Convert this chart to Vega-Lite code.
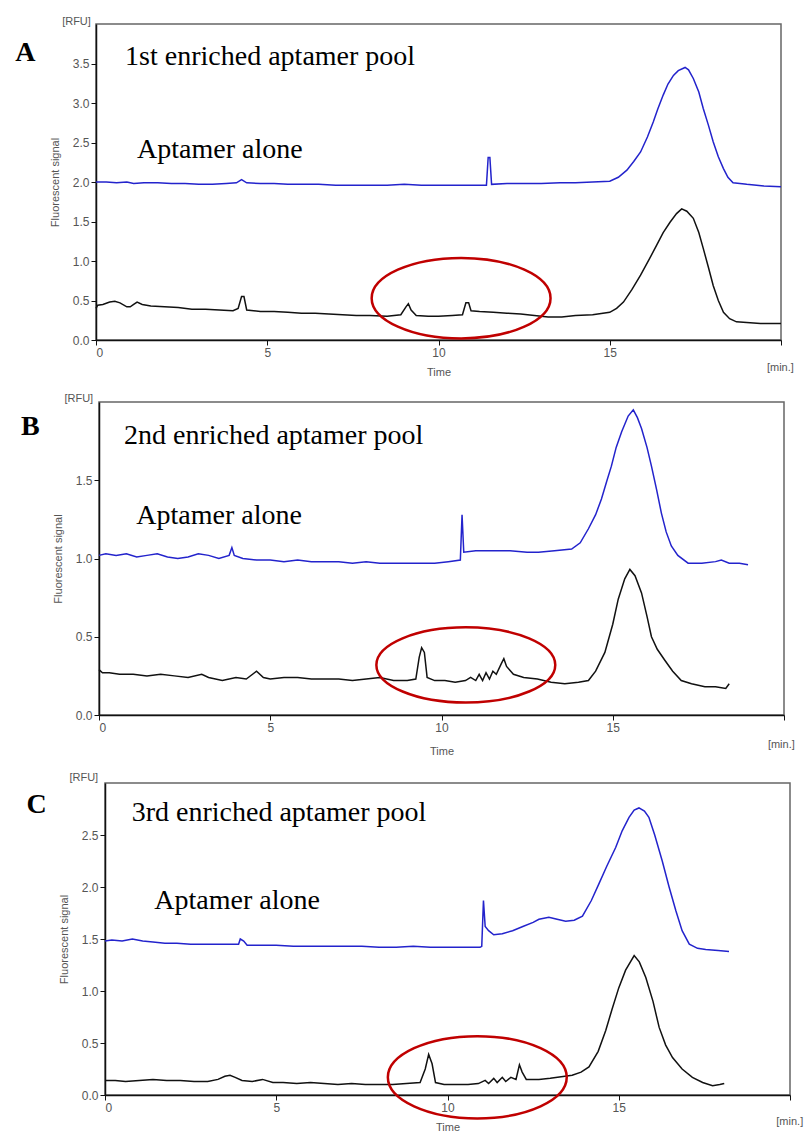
{
  "$schema": "https://vega.github.io/schema/vega-lite/v6.json",
  "padding": {"left": 12, "top": 15, "right": 0, "bottom": 0},
  "spacing": 14,
  "config": {
    "view": {"stroke": "#666666", "strokeWidth": 1.5},
    "axis": {"grid": false, "domainColor": "#111111", "domainWidth": 1.5, "tickColor": "#111111", "tickSize": 5, "labelFont": "Liberation Sans", "labelFontSize": 12, "labelColor": "#555555", "labelPadding": 2, "titleFont": "Liberation Sans", "titleFontSize": 11, "titleFontWeight": "normal", "titleColor": "#555555"},
    "axisX": {"titlePadding": 8},
    "axisY": {"titlePadding": 12}
  },
  "datasets": {
    "A": [
      {"tr":"u","t":0,"v":2.0},{"tr":"u","t":0.3,"v":2.0},{"tr":"u","t":0.6,"v":1.99},{"tr":"u","t":0.9,"v":2.0},{"tr":"u","t":1.1,"v":1.98},{"tr":"u","t":1.4,"v":1.99},{"tr":"u","t":1.8,"v":1.99},{"tr":"u","t":2.2,"v":1.98},{"tr":"u","t":2.6,"v":1.98},{"tr":"u","t":3.0,"v":1.97},{"tr":"u","t":3.4,"v":1.97},{"tr":"u","t":3.8,"v":1.98},{"tr":"u","t":4.1,"v":1.99},{"tr":"u","t":4.25,"v":2.03},{"tr":"u","t":4.4,"v":1.99},{"tr":"u","t":4.8,"v":1.98},{"tr":"u","t":5.2,"v":1.98},{"tr":"u","t":5.6,"v":1.97},{"tr":"u","t":6.0,"v":1.97},{"tr":"u","t":6.5,"v":1.97},{"tr":"u","t":7.0,"v":1.96},{"tr":"u","t":7.5,"v":1.96},{"tr":"u","t":8.0,"v":1.96},{"tr":"u","t":8.5,"v":1.96},{"tr":"u","t":9.0,"v":1.97},{"tr":"u","t":9.5,"v":1.96},{"tr":"u","t":10.0,"v":1.96},{"tr":"u","t":10.5,"v":1.96},{"tr":"u","t":11.0,"v":1.96},{"tr":"u","t":11.4,"v":1.96},{"tr":"u","t":11.45,"v":2.31},{"tr":"u","t":11.5,"v":2.31},{"tr":"u","t":11.55,"v":1.97},{"tr":"u","t":12.0,"v":1.98},{"tr":"u","t":12.5,"v":1.98},{"tr":"u","t":13.0,"v":1.98},{"tr":"u","t":13.55,"v":1.99},{"tr":"u","t":14.0,"v":1.99},{"tr":"u","t":14.5,"v":2.0},{"tr":"u","t":15.0,"v":2.01},{"tr":"u","t":15.25,"v":2.06},{"tr":"u","t":15.5,"v":2.15},{"tr":"u","t":15.7,"v":2.26},{"tr":"u","t":15.9,"v":2.38},{"tr":"u","t":16.1,"v":2.57},{"tr":"u","t":16.27,"v":2.76},{"tr":"u","t":16.4,"v":2.92},{"tr":"u","t":16.56,"v":3.1},{"tr":"u","t":16.7,"v":3.24},{"tr":"u","t":16.86,"v":3.35},{"tr":"u","t":17.0,"v":3.41},{"tr":"u","t":17.2,"v":3.45},{"tr":"u","t":17.3,"v":3.42},{"tr":"u","t":17.44,"v":3.31},{"tr":"u","t":17.6,"v":3.14},{"tr":"u","t":17.73,"v":2.93},{"tr":"u","t":17.88,"v":2.72},{"tr":"u","t":18.02,"v":2.51},{"tr":"u","t":18.17,"v":2.32},{"tr":"u","t":18.32,"v":2.17},{"tr":"u","t":18.45,"v":2.06},{"tr":"u","t":18.6,"v":1.99},{"tr":"u","t":18.8,"v":1.98},{"tr":"u","t":19.0,"v":1.97},{"tr":"u","t":19.5,"v":1.95},{"tr":"u","t":20.0,"v":1.94},
      {"tr":"l","t":0,"v":0.4},{"tr":"l","t":0.05,"v":0.44},{"tr":"l","t":0.2,"v":0.45},{"tr":"l","t":0.4,"v":0.48},{"tr":"l","t":0.55,"v":0.49},{"tr":"l","t":0.7,"v":0.47},{"tr":"l","t":0.9,"v":0.42},{"tr":"l","t":1.0,"v":0.42},{"tr":"l","t":1.1,"v":0.45},{"tr":"l","t":1.2,"v":0.48},{"tr":"l","t":1.35,"v":0.45},{"tr":"l","t":1.6,"v":0.43},{"tr":"l","t":2.0,"v":0.42},{"tr":"l","t":2.4,"v":0.41},{"tr":"l","t":2.8,"v":0.39},{"tr":"l","t":3.2,"v":0.39},{"tr":"l","t":3.6,"v":0.38},{"tr":"l","t":4.0,"v":0.37},{"tr":"l","t":4.15,"v":0.4},{"tr":"l","t":4.25,"v":0.55},{"tr":"l","t":4.32,"v":0.55},{"tr":"l","t":4.4,"v":0.38},{"tr":"l","t":4.8,"v":0.36},{"tr":"l","t":5.2,"v":0.36},{"tr":"l","t":5.6,"v":0.35},{"tr":"l","t":6.0,"v":0.34},{"tr":"l","t":6.4,"v":0.34},{"tr":"l","t":6.8,"v":0.33},{"tr":"l","t":7.2,"v":0.32},{"tr":"l","t":7.6,"v":0.31},{"tr":"l","t":8.0,"v":0.31},{"tr":"l","t":8.5,"v":0.3},{"tr":"l","t":8.9,"v":0.32},{"tr":"l","t":9.05,"v":0.42},{"tr":"l","t":9.12,"v":0.46},{"tr":"l","t":9.2,"v":0.38},{"tr":"l","t":9.35,"v":0.31},{"tr":"l","t":9.7,"v":0.3},{"tr":"l","t":10.0,"v":0.3},{"tr":"l","t":10.4,"v":0.31},{"tr":"l","t":10.7,"v":0.32},{"tr":"l","t":10.8,"v":0.47},{"tr":"l","t":10.88,"v":0.47},{"tr":"l","t":10.95,"v":0.37},{"tr":"l","t":11.2,"v":0.36},{"tr":"l","t":11.6,"v":0.35},{"tr":"l","t":12.0,"v":0.34},{"tr":"l","t":12.4,"v":0.33},{"tr":"l","t":12.8,"v":0.31},{"tr":"l","t":13.2,"v":0.29},{"tr":"l","t":13.6,"v":0.29},{"tr":"l","t":14.0,"v":0.31},{"tr":"l","t":14.5,"v":0.32},{"tr":"l","t":15.0,"v":0.35},{"tr":"l","t":15.2,"v":0.4},{"tr":"l","t":15.4,"v":0.48},{"tr":"l","t":15.65,"v":0.64},{"tr":"l","t":15.9,"v":0.82},{"tr":"l","t":16.15,"v":1.02},{"tr":"l","t":16.37,"v":1.2},{"tr":"l","t":16.56,"v":1.36},{"tr":"l","t":16.76,"v":1.49},{"tr":"l","t":16.95,"v":1.6},{"tr":"l","t":17.1,"v":1.66},{"tr":"l","t":17.25,"v":1.63},{"tr":"l","t":17.44,"v":1.54},{"tr":"l","t":17.6,"v":1.36},{"tr":"l","t":17.73,"v":1.16},{"tr":"l","t":17.88,"v":0.92},{"tr":"l","t":18.02,"v":0.69},{"tr":"l","t":18.17,"v":0.5},{"tr":"l","t":18.32,"v":0.35},{"tr":"l","t":18.5,"v":0.27},{"tr":"l","t":18.7,"v":0.23},{"tr":"l","t":19.0,"v":0.22},{"tr":"l","t":19.4,"v":0.21},{"tr":"l","t":20.0,"v":0.21}
    ],
    "B": [
      {"tr":"u","t":0,"v":1.02},{"tr":"u","t":0.2,"v":1.03},{"tr":"u","t":0.5,"v":1.02},{"tr":"u","t":0.8,"v":1.03},{"tr":"u","t":1.1,"v":1.01},{"tr":"u","t":1.4,"v":1.02},{"tr":"u","t":1.7,"v":1.03},{"tr":"u","t":2.0,"v":1.01},{"tr":"u","t":2.3,"v":1.0},{"tr":"u","t":2.6,"v":1.01},{"tr":"u","t":2.9,"v":1.03},{"tr":"u","t":3.2,"v":1.02},{"tr":"u","t":3.5,"v":1.0},{"tr":"u","t":3.8,"v":1.02},{"tr":"u","t":3.88,"v":1.07},{"tr":"u","t":3.95,"v":1.02},{"tr":"u","t":4.2,"v":1.0},{"tr":"u","t":4.6,"v":0.99},{"tr":"u","t":5.0,"v":0.99},{"tr":"u","t":5.4,"v":0.98},{"tr":"u","t":5.8,"v":0.99},{"tr":"u","t":6.2,"v":0.98},{"tr":"u","t":6.6,"v":0.98},{"tr":"u","t":7.0,"v":0.98},{"tr":"u","t":7.4,"v":0.97},{"tr":"u","t":7.8,"v":0.98},{"tr":"u","t":8.2,"v":0.97},{"tr":"u","t":8.6,"v":0.97},{"tr":"u","t":9.0,"v":0.97},{"tr":"u","t":9.4,"v":0.97},{"tr":"u","t":9.8,"v":0.97},{"tr":"u","t":10.2,"v":0.98},{"tr":"u","t":10.55,"v":0.99},{"tr":"u","t":10.6,"v":1.28},{"tr":"u","t":10.65,"v":1.04},{"tr":"u","t":11.0,"v":1.05},{"tr":"u","t":11.5,"v":1.05},{"tr":"u","t":12.0,"v":1.05},{"tr":"u","t":12.5,"v":1.04},{"tr":"u","t":12.83,"v":1.04},{"tr":"u","t":13.3,"v":1.05},{"tr":"u","t":13.8,"v":1.06},{"tr":"u","t":14.05,"v":1.1},{"tr":"u","t":14.29,"v":1.19},{"tr":"u","t":14.5,"v":1.28},{"tr":"u","t":14.67,"v":1.38},{"tr":"u","t":14.82,"v":1.49},{"tr":"u","t":14.96,"v":1.59},{"tr":"u","t":15.1,"v":1.71},{"tr":"u","t":15.26,"v":1.81},{"tr":"u","t":15.45,"v":1.91},{"tr":"u","t":15.6,"v":1.95},{"tr":"u","t":15.72,"v":1.9},{"tr":"u","t":15.84,"v":1.83},{"tr":"u","t":16.0,"v":1.71},{"tr":"u","t":16.13,"v":1.59},{"tr":"u","t":16.28,"v":1.44},{"tr":"u","t":16.42,"v":1.29},{"tr":"u","t":16.56,"v":1.17},{"tr":"u","t":16.71,"v":1.08},{"tr":"u","t":16.9,"v":1.02},{"tr":"u","t":17.2,"v":0.97},{"tr":"u","t":17.6,"v":0.97},{"tr":"u","t":18.0,"v":0.98},{"tr":"u","t":18.17,"v":0.99},{"tr":"u","t":18.4,"v":0.97},{"tr":"u","t":18.7,"v":0.97},{"tr":"u","t":18.95,"v":0.96},
      {"tr":"l","t":0,"v":0.29},{"tr":"l","t":0.1,"v":0.27},{"tr":"l","t":0.3,"v":0.27},{"tr":"l","t":0.6,"v":0.26},{"tr":"l","t":1.0,"v":0.26},{"tr":"l","t":1.4,"v":0.25},{"tr":"l","t":1.8,"v":0.26},{"tr":"l","t":2.2,"v":0.25},{"tr":"l","t":2.6,"v":0.24},{"tr":"l","t":3.0,"v":0.26},{"tr":"l","t":3.2,"v":0.24},{"tr":"l","t":3.6,"v":0.22},{"tr":"l","t":4.0,"v":0.24},{"tr":"l","t":4.3,"v":0.23},{"tr":"l","t":4.6,"v":0.28},{"tr":"l","t":4.8,"v":0.24},{"tr":"l","t":5.0,"v":0.23},{"tr":"l","t":5.4,"v":0.24},{"tr":"l","t":5.8,"v":0.24},{"tr":"l","t":6.2,"v":0.23},{"tr":"l","t":6.6,"v":0.23},{"tr":"l","t":7.0,"v":0.23},{"tr":"l","t":7.4,"v":0.22},{"tr":"l","t":7.8,"v":0.23},{"tr":"l","t":8.2,"v":0.24},{"tr":"l","t":8.6,"v":0.22},{"tr":"l","t":9.0,"v":0.22},{"tr":"l","t":9.25,"v":0.23},{"tr":"l","t":9.35,"v":0.37},{"tr":"l","t":9.42,"v":0.43},{"tr":"l","t":9.5,"v":0.4},{"tr":"l","t":9.58,"v":0.24},{"tr":"l","t":9.8,"v":0.22},{"tr":"l","t":10.1,"v":0.22},{"tr":"l","t":10.4,"v":0.21},{"tr":"l","t":10.7,"v":0.22},{"tr":"l","t":10.85,"v":0.24},{"tr":"l","t":11.0,"v":0.22},{"tr":"l","t":11.1,"v":0.26},{"tr":"l","t":11.2,"v":0.22},{"tr":"l","t":11.3,"v":0.27},{"tr":"l","t":11.4,"v":0.23},{"tr":"l","t":11.5,"v":0.28},{"tr":"l","t":11.6,"v":0.26},{"tr":"l","t":11.75,"v":0.33},{"tr":"l","t":11.82,"v":0.36},{"tr":"l","t":11.9,"v":0.31},{"tr":"l","t":12.1,"v":0.26},{"tr":"l","t":12.4,"v":0.24},{"tr":"l","t":12.8,"v":0.23},{"tr":"l","t":13.2,"v":0.21},{"tr":"l","t":13.6,"v":0.2},{"tr":"l","t":14.0,"v":0.21},{"tr":"l","t":14.29,"v":0.22},{"tr":"l","t":14.5,"v":0.28},{"tr":"l","t":14.77,"v":0.4},{"tr":"l","t":15.0,"v":0.58},{"tr":"l","t":15.16,"v":0.74},{"tr":"l","t":15.35,"v":0.87},{"tr":"l","t":15.5,"v":0.93},{"tr":"l","t":15.65,"v":0.89},{"tr":"l","t":15.84,"v":0.78},{"tr":"l","t":16.0,"v":0.63},{"tr":"l","t":16.13,"v":0.5},{"tr":"l","t":16.3,"v":0.42},{"tr":"l","t":16.52,"v":0.35},{"tr":"l","t":16.75,"v":0.28},{"tr":"l","t":17.0,"v":0.22},{"tr":"l","t":17.3,"v":0.2},{"tr":"l","t":17.69,"v":0.18},{"tr":"l","t":18.0,"v":0.18},{"tr":"l","t":18.3,"v":0.17},{"tr":"l","t":18.4,"v":0.2}
    ],
    "C": [
      {"tr":"u","t":0,"v":1.48},{"tr":"u","t":0.2,"v":1.49},{"tr":"u","t":0.5,"v":1.48},{"tr":"u","t":0.8,"v":1.5},{"tr":"u","t":1.1,"v":1.48},{"tr":"u","t":1.4,"v":1.47},{"tr":"u","t":1.75,"v":1.46},{"tr":"u","t":2.1,"v":1.46},{"tr":"u","t":2.5,"v":1.45},{"tr":"u","t":2.9,"v":1.45},{"tr":"u","t":3.3,"v":1.45},{"tr":"u","t":3.7,"v":1.45},{"tr":"u","t":3.9,"v":1.45},{"tr":"u","t":3.95,"v":1.5},{"tr":"u","t":4.05,"v":1.48},{"tr":"u","t":4.15,"v":1.44},{"tr":"u","t":4.5,"v":1.44},{"tr":"u","t":5.0,"v":1.44},{"tr":"u","t":5.5,"v":1.43},{"tr":"u","t":6.0,"v":1.43},{"tr":"u","t":6.5,"v":1.43},{"tr":"u","t":7.0,"v":1.43},{"tr":"u","t":7.5,"v":1.43},{"tr":"u","t":8.0,"v":1.42},{"tr":"u","t":8.5,"v":1.42},{"tr":"u","t":9.0,"v":1.43},{"tr":"u","t":9.5,"v":1.42},{"tr":"u","t":10.0,"v":1.42},{"tr":"u","t":10.5,"v":1.42},{"tr":"u","t":10.95,"v":1.42},{"tr":"u","t":11.0,"v":1.43},{"tr":"u","t":11.05,"v":1.87},{"tr":"u","t":11.1,"v":1.62},{"tr":"u","t":11.2,"v":1.58},{"tr":"u","t":11.35,"v":1.54},{"tr":"u","t":11.6,"v":1.55},{"tr":"u","t":11.9,"v":1.58},{"tr":"u","t":12.2,"v":1.62},{"tr":"u","t":12.5,"v":1.66},{"tr":"u","t":12.67,"v":1.69},{"tr":"u","t":12.96,"v":1.71},{"tr":"u","t":13.2,"v":1.69},{"tr":"u","t":13.45,"v":1.67},{"tr":"u","t":13.7,"v":1.68},{"tr":"u","t":13.94,"v":1.72},{"tr":"u","t":14.2,"v":1.87},{"tr":"u","t":14.42,"v":2.03},{"tr":"u","t":14.65,"v":2.2},{"tr":"u","t":14.91,"v":2.38},{"tr":"u","t":15.1,"v":2.54},{"tr":"u","t":15.3,"v":2.67},{"tr":"u","t":15.45,"v":2.74},{"tr":"u","t":15.59,"v":2.76},{"tr":"u","t":15.75,"v":2.73},{"tr":"u","t":15.88,"v":2.67},{"tr":"u","t":16.05,"v":2.5},{"tr":"u","t":16.27,"v":2.25},{"tr":"u","t":16.47,"v":2.0},{"tr":"u","t":16.67,"v":1.77},{"tr":"u","t":16.85,"v":1.58},{"tr":"u","t":17.06,"v":1.45},{"tr":"u","t":17.3,"v":1.41},{"tr":"u","t":17.54,"v":1.4},{"tr":"u","t":17.9,"v":1.39},{"tr":"u","t":18.22,"v":1.38},
      {"tr":"l","t":0,"v":0.14},{"tr":"l","t":0.3,"v":0.14},{"tr":"l","t":0.6,"v":0.13},{"tr":"l","t":1.0,"v":0.14},{"tr":"l","t":1.4,"v":0.15},{"tr":"l","t":1.8,"v":0.14},{"tr":"l","t":2.2,"v":0.14},{"tr":"l","t":2.6,"v":0.13},{"tr":"l","t":3.0,"v":0.13},{"tr":"l","t":3.3,"v":0.15},{"tr":"l","t":3.5,"v":0.18},{"tr":"l","t":3.65,"v":0.19},{"tr":"l","t":3.8,"v":0.17},{"tr":"l","t":4.0,"v":0.14},{"tr":"l","t":4.3,"v":0.13},{"tr":"l","t":4.6,"v":0.15},{"tr":"l","t":4.9,"v":0.12},{"tr":"l","t":5.2,"v":0.12},{"tr":"l","t":5.6,"v":0.11},{"tr":"l","t":6.0,"v":0.12},{"tr":"l","t":6.4,"v":0.11},{"tr":"l","t":6.8,"v":0.1},{"tr":"l","t":7.2,"v":0.11},{"tr":"l","t":7.6,"v":0.1},{"tr":"l","t":8.0,"v":0.1},{"tr":"l","t":8.4,"v":0.1},{"tr":"l","t":8.8,"v":0.11},{"tr":"l","t":9.2,"v":0.12},{"tr":"l","t":9.35,"v":0.25},{"tr":"l","t":9.45,"v":0.39},{"tr":"l","t":9.55,"v":0.3},{"tr":"l","t":9.65,"v":0.12},{"tr":"l","t":9.9,"v":0.1},{"tr":"l","t":10.2,"v":0.1},{"tr":"l","t":10.6,"v":0.1},{"tr":"l","t":10.9,"v":0.11},{"tr":"l","t":11.1,"v":0.14},{"tr":"l","t":11.2,"v":0.11},{"tr":"l","t":11.35,"v":0.16},{"tr":"l","t":11.45,"v":0.12},{"tr":"l","t":11.6,"v":0.17},{"tr":"l","t":11.7,"v":0.13},{"tr":"l","t":11.85,"v":0.17},{"tr":"l","t":12.0,"v":0.15},{"tr":"l","t":12.1,"v":0.29},{"tr":"l","t":12.18,"v":0.22},{"tr":"l","t":12.3,"v":0.15},{"tr":"l","t":12.67,"v":0.15},{"tr":"l","t":13.0,"v":0.16},{"tr":"l","t":13.64,"v":0.19},{"tr":"l","t":13.9,"v":0.22},{"tr":"l","t":14.13,"v":0.27},{"tr":"l","t":14.4,"v":0.42},{"tr":"l","t":14.62,"v":0.62},{"tr":"l","t":14.8,"v":0.82},{"tr":"l","t":15.0,"v":1.03},{"tr":"l","t":15.2,"v":1.2},{"tr":"l","t":15.45,"v":1.34},{"tr":"l","t":15.6,"v":1.28},{"tr":"l","t":15.79,"v":1.13},{"tr":"l","t":16.0,"v":0.9},{"tr":"l","t":16.18,"v":0.65},{"tr":"l","t":16.37,"v":0.48},{"tr":"l","t":16.57,"v":0.36},{"tr":"l","t":16.85,"v":0.25},{"tr":"l","t":17.15,"v":0.17},{"tr":"l","t":17.45,"v":0.12},{"tr":"l","t":17.74,"v":0.09},{"tr":"l","t":17.95,"v":0.1},{"tr":"l","t":18.08,"v":0.11}
    ]
  },
  "vconcat": [
    {"spacing": 0, "hconcat": [
    {"width": 2, "height": 10, "view": {"stroke": null}, "data": {"values": []}, "mark": "point", "encoding": {}},
    {
      "width": 685, "height": 316,
      "layer": [
        {"data": {"name": "A"}, "mark": {"type": "line", "strokeWidth": 1.5}, "encoding": {
          "x": {"field": "t", "type": "quantitative", "scale": {"domain": [0, 20]}, "axis": {"title": "Time", "values": [0, 5, 10, 15, 20], "labelExpr": "datum.value == 20 ? '' : datum.label"}},
          "y": {"field": "v", "type": "quantitative", "scale": {"domain": [0, 4]}, "axis": {"title": "Fluorescent signal", "values": [0, 0.5, 1, 1.5, 2, 2.5, 3, 3.5], "format": ".1f"}},
          "color": {"field": "tr", "type": "nominal", "scale": {"domain": ["u", "l"], "range": ["#2323cc", "#111111"]}, "legend": null}}},
        {"data": {"values": [{"t": 10.66, "v": 0.53}]}, "mark": {"type": "point", "shape": "M-1,0A1,0.45,0,1,1,1,0A1,0.45,0,1,1,-1,0Z", "size": 32000, "filled": false, "stroke": "#c00000", "strokeWidth": 2.5, "opacity": 1}, "encoding": {"x": {"field": "t", "type": "quantitative"}, "y": {"field": "v", "type": "quantitative"}}},
        {"data": {"values": [{"t": -2.36, "v": 3.53, "label": "A"}]}, "mark": {"type": "text", "font": "Liberation Serif", "fontSize": 28, "fontWeight": "bold", "align": "left", "baseline": "alphabetic", "color": "#000000"}, "encoding": {"x": {"field": "t", "type": "quantitative"}, "y": {"field": "v", "type": "quantitative"}, "text": {"field": "label"}}},
        {"data": {"values": [{"t": 0.85, "v": 3.48, "label": "1st enriched aptamer pool"}, {"t": 1.2, "v": 2.3, "label": "Aptamer alone"}]}, "mark": {"type": "text", "font": "Liberation Serif", "fontSize": 28, "align": "left", "baseline": "alphabetic", "color": "#000000"}, "encoding": {"x": {"field": "t", "type": "quantitative"}, "y": {"field": "v", "type": "quantitative"}, "text": {"field": "label"}}},
        {"data": {"values": [{"t": -0.15, "v": 4.02, "label": "[RFU]"}]}, "mark": {"type": "text", "font": "Liberation Sans", "fontSize": 11, "align": "right", "baseline": "middle", "color": "#555555"}, "encoding": {"x": {"field": "t", "type": "quantitative"}, "y": {"field": "v", "type": "quantitative"}, "text": {"field": "label"}}},
        {"data": {"values": [{"t": 19.59, "v": -0.35, "label": "[min.]"}]}, "mark": {"type": "text", "font": "Liberation Sans", "fontSize": 11, "align": "left", "baseline": "middle", "color": "#555555"}, "encoding": {"x": {"field": "t", "type": "quantitative"}, "y": {"field": "v", "type": "quantitative"}, "text": {"field": "label"}}}
      ]
    }]},
    {"spacing": 0, "hconcat": [
    {"width": 8, "height": 10, "view": {"stroke": null}, "data": {"values": []}, "mark": "point", "encoding": {}},
    {
      "width": 685, "height": 313,
      "layer": [
        {"data": {"name": "B"}, "mark": {"type": "line", "strokeWidth": 1.5}, "encoding": {
          "x": {"field": "t", "type": "quantitative", "scale": {"domain": [0, 20]}, "axis": {"title": "Time", "titlePadding": 12, "values": [0, 5, 10, 15, 20], "labelExpr": "datum.value == 20 ? '' : datum.label"}},
          "y": {"field": "v", "type": "quantitative", "scale": {"domain": [0, 2]}, "axis": {"title": "Fluorescent signal", "values": [0, 0.5, 1, 1.5], "format": ".1f"}},
          "color": {"field": "tr", "type": "nominal", "scale": {"domain": ["u", "l"], "range": ["#2323cc", "#111111"]}, "legend": null}}},
        {"data": {"values": [{"t": 10.71, "v": 0.32}]}, "mark": {"type": "point", "shape": "M-1,0A1,0.42,0,1,1,1,0A1,0.42,0,1,1,-1,0Z", "size": 32000, "filled": false, "stroke": "#c00000", "strokeWidth": 2.5, "opacity": 1}, "encoding": {"x": {"field": "t", "type": "quantitative"}, "y": {"field": "v", "type": "quantitative"}}},
        {"data": {"values": [{"t": -2.28, "v": 1.79, "label": "B"}]}, "mark": {"type": "text", "font": "Liberation Serif", "fontSize": 28, "fontWeight": "bold", "align": "left", "baseline": "alphabetic", "color": "#000000"}, "encoding": {"x": {"field": "t", "type": "quantitative"}, "y": {"field": "v", "type": "quantitative"}, "text": {"field": "label"}}},
        {"data": {"values": [{"t": 0.73, "v": 1.73, "label": "2nd enriched aptamer pool"}, {"t": 1.09, "v": 1.22, "label": "Aptamer alone"}]}, "mark": {"type": "text", "font": "Liberation Serif", "fontSize": 28, "align": "left", "baseline": "alphabetic", "color": "#000000"}, "encoding": {"x": {"field": "t", "type": "quantitative"}, "y": {"field": "v", "type": "quantitative"}, "text": {"field": "label"}}},
        {"data": {"values": [{"t": -0.17, "v": 2.017, "label": "[RFU]"}]}, "mark": {"type": "text", "font": "Liberation Sans", "fontSize": 11, "align": "right", "baseline": "middle", "color": "#555555"}, "encoding": {"x": {"field": "t", "type": "quantitative"}, "y": {"field": "v", "type": "quantitative"}, "text": {"field": "label"}}},
        {"data": {"values": [{"t": 19.53, "v": -0.19, "label": "[min.]"}]}, "mark": {"type": "text", "font": "Liberation Sans", "fontSize": 11, "align": "left", "baseline": "middle", "color": "#555555"}, "encoding": {"x": {"field": "t", "type": "quantitative"}, "y": {"field": "v", "type": "quantitative"}, "text": {"field": "label"}}}
      ]
    }]},
    {"spacing": 0, "hconcat": [
    {"width": 13, "height": 10, "view": {"stroke": null}, "data": {"values": []}, "mark": "point", "encoding": {}},
    {
      "width": 685, "height": 312,
      "layer": [
        {"data": {"name": "C"}, "mark": {"type": "line", "strokeWidth": 1.5}, "encoding": {
          "x": {"field": "t", "type": "quantitative", "scale": {"domain": [0, 20]}, "axis": {"title": "Time", "values": [0, 5, 10, 15, 20], "labelExpr": "datum.value == 20 ? '' : datum.label"}},
          "y": {"field": "v", "type": "quantitative", "scale": {"domain": [0, 3]}, "axis": {"title": "Fluorescent signal", "values": [0, 0.5, 1, 1.5, 2, 2.5], "format": ".1f"}},
          "color": {"field": "tr", "type": "nominal", "scale": {"domain": ["u", "l"], "range": ["#2323cc", "#111111"]}, "legend": null}}},
        {"data": {"values": [{"t": 10.87, "v": 0.17}]}, "mark": {"type": "point", "shape": "M-1,0A1,0.46,0,1,1,1,0A1,0.46,0,1,1,-1,0Z", "size": 32000, "filled": false, "stroke": "#c00000", "strokeWidth": 2.5, "opacity": 1}, "encoding": {"x": {"field": "t", "type": "quantitative"}, "y": {"field": "v", "type": "quantitative"}}},
        {"data": {"values": [{"t": -2.29, "v": 2.71, "label": "C"}]}, "mark": {"type": "text", "font": "Liberation Serif", "fontSize": 28, "fontWeight": "bold", "align": "left", "baseline": "alphabetic", "color": "#000000"}, "encoding": {"x": {"field": "t", "type": "quantitative"}, "y": {"field": "v", "type": "quantitative"}, "text": {"field": "label"}}},
        {"data": {"values": [{"t": 0.78, "v": 2.63, "label": "3rd enriched aptamer pool"}, {"t": 1.44, "v": 1.79, "label": "Aptamer alone"}]}, "mark": {"type": "text", "font": "Liberation Serif", "fontSize": 28, "align": "left", "baseline": "alphabetic", "color": "#000000"}, "encoding": {"x": {"field": "t", "type": "quantitative"}, "y": {"field": "v", "type": "quantitative"}, "text": {"field": "label"}}},
        {"data": {"values": [{"t": -0.2, "v": 3.05, "label": "[RFU]"}]}, "mark": {"type": "text", "font": "Liberation Sans", "fontSize": 11, "align": "right", "baseline": "middle", "color": "#555555"}, "encoding": {"x": {"field": "t", "type": "quantitative"}, "y": {"field": "v", "type": "quantitative"}, "text": {"field": "label"}}},
        {"data": {"values": [{"t": 19.6, "v": -0.26, "label": "[min.]"}]}, "mark": {"type": "text", "font": "Liberation Sans", "fontSize": 11, "align": "left", "baseline": "middle", "color": "#555555"}, "encoding": {"x": {"field": "t", "type": "quantitative"}, "y": {"field": "v", "type": "quantitative"}, "text": {"field": "label"}}}
      ]
    }]}
  ]
}
